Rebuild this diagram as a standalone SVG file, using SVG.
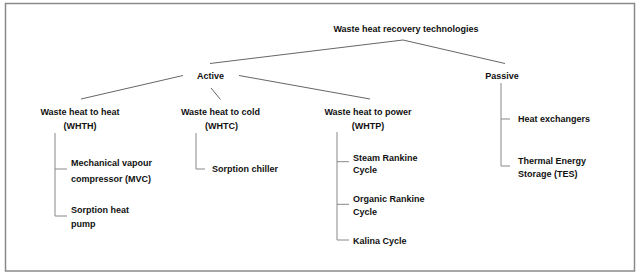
<svg xmlns="http://www.w3.org/2000/svg" width="640" height="274" viewBox="0 0 640 274">
<style>
text{font-family:"Liberation Sans",Arial,sans-serif;font-weight:bold;font-size:9px;fill:#111}
.c{text-anchor:middle}
.ln{stroke:#555;stroke-width:0.9;fill:none}
.lt{stroke:#888;stroke-width:1;fill:none}
</style>
<rect x="5.5" y="3.5" width="629" height="267.5" fill="#fff" stroke="#8a8a8a" stroke-width="1.5"/>
<g id="connectors">
<path class="ln" d="M403,40 L210,63.5"/>
<path class="ln" d="M403,40 L505,63.5"/>
<path class="ln" d="M183,75.5 L81,99"/>
<path class="ln" d="M211,88 L220.5,99.5"/>
<path class="ln" d="M239,75.5 L370,99"/>
<path class="lt" d="M55,133 V216 M55,169 H67 M55,216 H67"/>
<path class="lt" d="M196,133 V169 H205"/>
<path class="lt" d="M337,132 V240 M337,161.7 H349 M337,204.3 H349 M337,240 H349"/>
<path class="lt" d="M501,83 V166 M501,119 H510 M501,166 H510"/>
</g>
<g id="root"><text class="c" x="406" y="32.2">Waste heat recovery technologies</text></g>
<g id="active"><text class="c" x="210.5" y="79">Active</text></g>
<g id="passive"><text class="c" x="502" y="79">Passive</text></g>
<g id="whth"><text class="c" x="80" y="114.5">Waste heat to heat</text><text class="c" x="80" y="129">(WHTH)</text></g>
<g id="whtc"><text class="c" x="220.5" y="114.5">Waste heat to cold</text><text class="c" x="221.5" y="129">(WHTC)</text></g>
<g id="whtp"><text class="c" x="368" y="114.5">Waste heat to power</text><text class="c" x="368" y="129">(WHTP)</text></g>
<g id="mvc"><text x="71" y="166.2">Mechanical vapour</text><text x="71" y="181.5">compressor (MVC)</text></g>
<g id="shp"><text x="71" y="213.2">Sorption heat</text><text x="71" y="226.5">pump</text></g>
<g id="chiller"><text x="212" y="172.2">Sorption chiller</text></g>
<g id="srk"><text x="353" y="160.9">Steam Rankine</text><text x="353" y="173.2">Cycle</text></g>
<g id="ork"><text x="353" y="201.9">Organic Rankine</text><text x="353" y="214.5">Cycle</text></g>
<g id="kalina"><text x="353" y="244.2">Kalina Cycle</text></g>
<g id="hx"><text x="518" y="122.2">Heat exchangers</text></g>
<g id="tes"><text x="518" y="164.2">Thermal Energy</text><text x="518" y="176.5">Storage (TES)</text></g>
</svg>
